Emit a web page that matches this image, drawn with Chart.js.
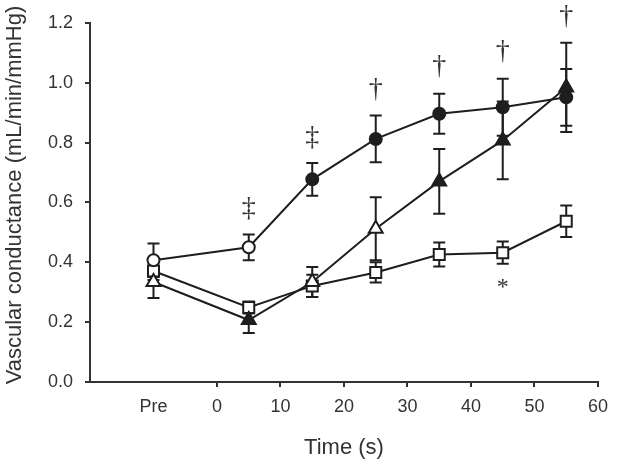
<!DOCTYPE html>
<html>
<head>
<meta charset="utf-8">
<script src="https://cdn.jsdelivr.net/npm/chart.js@4"></script>
<style>
  html, body { margin: 0; padding: 0; background: #fff; }
  canvas { display: block; }
</style>
</head>
<body>
<canvas id="chart" width="617" height="467"></canvas>
<script>
// time points (Pre plotted at -10)
const timePoints = [-10, 5, 15, 25, 35, 45, 55];

// circle series
const circleMean = [0.407, 0.450, 0.677, 0.812, 0.896, 0.918, 0.951];
const circleErr = [0.056, 0.043, 0.055, 0.078, 0.067, 0.095, 0.095];
const circleFilled = [false, false, true, true, true, true, true];

// triangle series
const triangleMean = [0.334, 0.207, 0.334, 0.512, 0.670, 0.807, 0.984];
const triangleErr = [0.053, 0.043, 0.050, 0.105, 0.108, 0.130, 0.149];
const triangleFilled = [false, true, false, false, true, true, true];

// square series
const squareMean = [0.371, 0.249, 0.321, 0.366, 0.426, 0.432, 0.537];
const squareErr = [0.030, 0.020, 0.037, 0.034, 0.040, 0.037, 0.053];
const squareFilled = [false, false, false, false, false, false, false];

// significance marks
const markX = [5, 15, 25, 35, 45, 55, 45];
const markY = [0.58, 0.818, 0.977, 1.052, 1.102, 1.222, 0.331];
const markText = ['‡', '‡', '†', '†', '†', '†', '*'];

const yTitle = 'Vascular conductance (mL/min/mmHg)';

const INK = '#1e1e1e';
const AXIS = '#333';
const FONT = "'Liberation Sans', Arial, sans-serif";

function points(means) {
  return timePoints.map((t, i) => ({ x: t, y: means[i] }));
}

function series(label, means, errs, filled, style, radius) {
  return {
    label,
    data: points(means),
    errors: errs,
    borderColor: INK,
    borderWidth: 2,
    pointStyle: style,
    pointRadius: radius,
    pointHoverRadius: radius,
    pointBorderColor: INK,
    pointBorderWidth: 2,
    pointBackgroundColor: filled.map(f => f ? INK : '#fff'),
    tension: 0
  };
}

// error bars go under the markers
const errorBars = {
  id: 'errorBars',
  beforeDatasetsDraw(chart) {
    const { ctx, scales: { x, y } } = chart;
    ctx.save();
    ctx.strokeStyle = INK;
    ctx.lineWidth = 2;
    chart.data.datasets.forEach(ds => {
      ds.data.forEach((p, i) => {
        const px = x.getPixelForValue(p.x);
        const top = y.getPixelForValue(p.y + ds.errors[i]);
        const bot = y.getPixelForValue(p.y - ds.errors[i]);
        ctx.beginPath();
        ctx.moveTo(px, top); ctx.lineTo(px, bot);
        ctx.moveTo(px - 6, top); ctx.lineTo(px + 6, top);
        ctx.moveTo(px - 6, bot); ctx.lineTo(px + 6, bot);
        ctx.stroke();
      });
    });
    ctx.restore();
  }
};

// significance symbols + the y title (sits a little above the plot centre)
const marks = {
  id: 'marks',
  afterDraw(chart) {
    const { ctx, scales: { x, y } } = chart;
    ctx.save();
    ctx.fillStyle = AXIS;
    ctx.textAlign = 'center';
    ctx.textBaseline = 'middle';
    markText.forEach((txt, i) => {
      ctx.font = txt === '*' ? "24px 'Liberation Serif', serif" : "28px 'Liberation Serif', serif";
      const dy = txt === '*' ? 5 : 0;
      ctx.fillText(txt, x.getPixelForValue(markX[i]), y.getPixelForValue(markY[i]) + dy);
    });

    ctx.translate(15, 195);
    ctx.rotate(-Math.PI / 2);
    ctx.font = '22px ' + FONT;
    ctx.fillText(yTitle, 0, 0);
    ctx.restore();
  }
};

new Chart(document.getElementById('chart'), {
  type: 'line',
  data: {
    datasets: [
      series('triangle', triangleMean, triangleErr, triangleFilled, 'triangle', 8),
      series('circle', circleMean, circleErr, circleFilled, 'circle', 6),
      series('square', squareMean, squareErr, squareFilled, 'rect', 7.8)
    ]
  },
  options: {
    responsive: false,
    animation: false,
    devicePixelRatio: 1,
    layout: { padding: { top: 22, right: 15, left: 0, bottom: 0 } },
    plugins: { legend: { display: false }, tooltip: { enabled: false } },
    scales: {
      x: {
        type: 'linear',
        min: -20,
        max: 60,
        afterFit(scale) { scale.height = 85; },
        ticks: {
          stepSize: 10,
          color: AXIS,
          font: { family: FONT, size: 18 },
          padding: 9,
          maxRotation: 0,
          callback: v => v === -10 ? 'Pre' : (v < 0 ? '' : String(v))
        },
        grid: {
          drawOnChartArea: false,
          drawTicks: true,
          tickLength: 5,
          lineWidth: 2,
          color: c => (c.tick && c.tick.value >= 0) ? AXIS : 'rgba(0,0,0,0)'
        },
        border: { display: true, color: AXIS, width: 2 },
        title: {
          display: true,
          text: 'Time (s)',
          color: AXIS,
          font: { family: FONT, size: 22 },
          padding: { top: 0, bottom: 6 }
        }
      },
      y: {
        min: 0,
        max: 1.2,
        afterFit(scale) { scale.width = 90; },
        ticks: {
          stepSize: 0.2,
          color: AXIS,
          font: { family: FONT, size: 18 },
          padding: 12,
          callback: v => v.toFixed(1)
        },
        grid: {
          drawOnChartArea: false,
          drawTicks: true,
          tickLength: 5,
          lineWidth: 2,
          color: AXIS
        },
        border: { display: true, color: AXIS, width: 2 },
        title: { display: false }
      }
    }
  },
  plugins: [errorBars, marks]
});
</script>
</body>
</html>
